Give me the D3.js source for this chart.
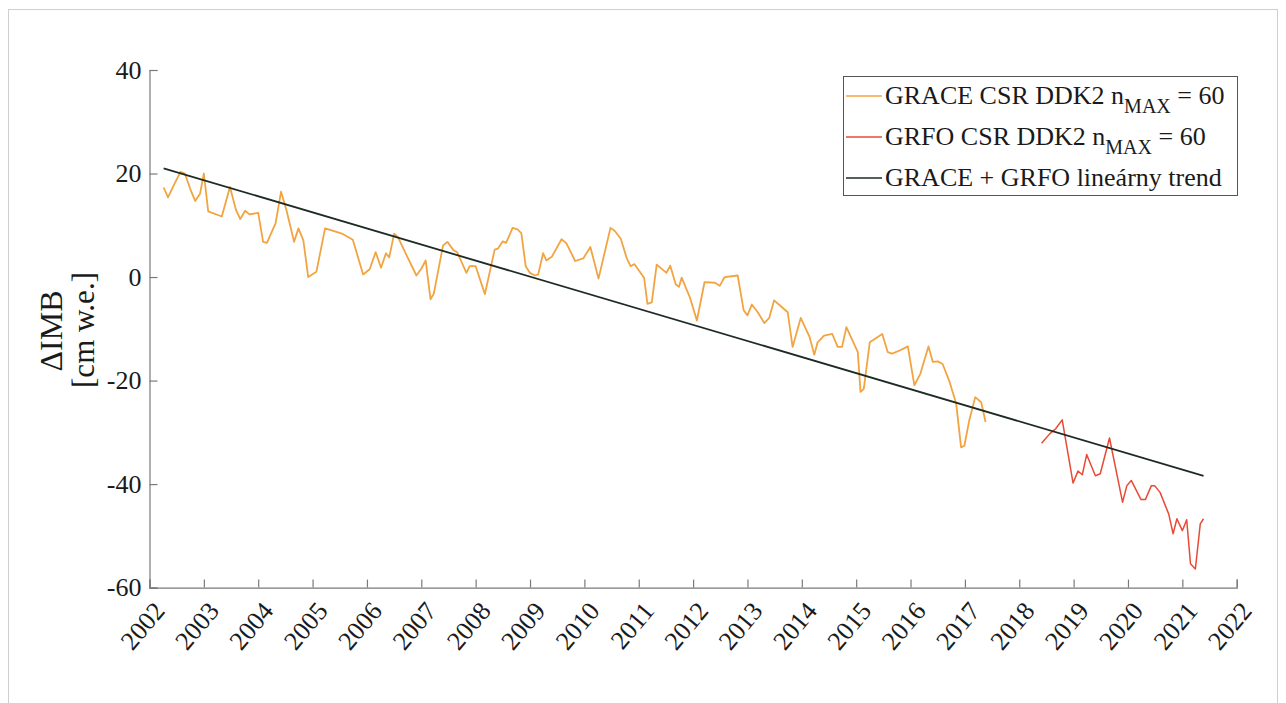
<!DOCTYPE html>
<html>
<head>
<meta charset="utf-8">
<script src="https://cdn.jsdelivr.net/npm/d3@7"></script>
<style>
  html, body { margin: 0; padding: 0; background: #fff; }
  svg { display: block; }
  text { font-family: "Liberation Serif", "Times New Roman", serif; fill: #1a1a1a; }
</style>
</head>
<body>
<svg id="chart" width="1286" height="703"></svg>
<script>
const graceYears = [2002.26,2002.34,2002.45,2002.57,2002.65,2002.75,2002.84,2002.93,2003.00,2003.08,2003.33,2003.48,2003.59,2003.67,2003.76,2003.84,2004.00,2004.09,2004.16,2004.32,2004.42,2004.52,2004.66,2004.74,2004.83,2004.92,2005.07,2005.23,2005.35,2005.54,2005.74,2005.93,2006.05,2006.16,2006.26,2006.35,2006.41,2006.50,2006.57,2006.73,2006.91,2007.00,2007.08,2007.17,2007.23,2007.40,2007.48,2007.59,2007.66,2007.83,2007.89,2008.00,2008.17,2008.35,2008.41,2008.50,2008.56,2008.68,2008.77,2008.84,2008.92,2009.00,2009.09,2009.15,2009.24,2009.30,2009.40,2009.58,2009.67,2009.83,2009.98,2010.11,2010.26,2010.48,2010.56,2010.67,2010.78,2010.85,2010.92,2011.10,2011.16,2011.24,2011.33,2011.51,2011.58,2011.68,2011.74,2011.79,2011.94,2012.07,2012.21,2012.40,2012.49,2012.58,2012.82,2012.93,2013.00,2013.08,2013.19,2013.31,2013.40,2013.49,2013.62,2013.74,2013.83,2013.98,2014.14,2014.23,2014.29,2014.41,2014.56,2014.66,2014.74,2014.82,2015.03,2015.08,2015.14,2015.25,2015.32,2015.48,2015.58,2015.66,2015.80,2015.95,2016.07,2016.18,2016.33,2016.41,2016.50,2016.59,2016.71,2016.84,2016.93,2016.99,2017.08,2017.19,2017.30,2017.38];
const graceValues = [17.3,15.4,17.8,20.3,20.0,17.0,14.7,16.1,20.0,12.7,11.7,17.4,13.0,11.2,12.8,12.1,12.4,6.8,6.6,10.4,16.5,12.9,6.8,9.4,7.1,0.0,1.0,9.4,9.0,8.4,7.2,0.5,1.5,4.8,1.8,4.6,3.8,8.4,7.7,4.2,0.3,1.6,3.2,-4.3,-3.2,6.1,6.8,5.2,4.8,0.8,2.1,2.1,-3.3,5.3,5.5,6.9,6.6,9.5,9.2,8.5,2.1,0.8,0.3,0.5,4.6,3.2,3.9,7.3,6.5,3.1,3.6,5.8,-0.3,9.5,8.9,7.4,3.6,2.1,2.5,-0.2,-5.2,-4.9,2.4,0.8,2.2,-1.4,-1.9,-0.1,-3.9,-8.4,-1.0,-1.1,-1.7,0.0,0.3,-6.4,-7.4,-5.3,-6.8,-8.9,-7.9,-4.5,-5.7,-6.8,-13.5,-7.9,-11.5,-15.0,-12.6,-11.3,-11.0,-13.5,-13.5,-9.7,-14.5,-22.2,-21.6,-12.6,-12.1,-11.0,-14.5,-14.8,-14.2,-13.4,-20.9,-18.7,-13.4,-16.4,-16.3,-16.8,-20.0,-24.5,-32.9,-32.6,-27.7,-23.2,-24.2,-28.0];

const grfoYears = [2018.41,2018.56,2018.67,2018.79,2018.99,2019.08,2019.16,2019.24,2019.40,2019.49,2019.66,2019.90,2019.98,2020.06,2020.24,2020.32,2020.43,2020.49,2020.59,2020.75,2020.83,2020.90,2021.00,2021.08,2021.15,2021.24,2021.33,2021.39];
const grfoValues = [-32.1,-30.3,-29.3,-27.6,-39.8,-37.5,-38.2,-34.3,-38.4,-38.0,-31.1,-43.5,-40.3,-39.3,-43.0,-43.0,-40.3,-40.3,-41.6,-45.8,-49.6,-46.7,-49.0,-46.9,-55.4,-56.4,-47.7,-46.7];

const trendYears = [2002.26, 2021.39];
const trendValues = [21.0, -38.4];

const yTicks = [-60, -40, -20, 0, 20, 40];
const xTicks = [2002,2003,2004,2005,2006,2007,2008,2009,2010,2011,2012,2013,2014,2015,2016,2017,2018,2019,2020,2021,2022];

const legendLabels = [
  {main: "GRACE CSR DDK2 n", sub: "MAX", tail: " = 60", color: "#f2a441"},
  {main: "GRFO CSR DDK2 n", sub: "MAX", tail: " = 60", color: "#e84a35"},
  {main: "GRACE + GRFO lineárny trend", sub: null, tail: null, color: "#1c2b24"}
];

const FONT = "'Liberation Serif', 'Times New Roman', serif";
const svg = d3.select("#chart");

// outer light frame
svg.append("rect").attr("x", 8.5).attr("y", 9.5).attr("width", 1269).attr("height", 700)
  .attr("fill", "none").attr("stroke", "#cfcfcf").attr("stroke-width", 1);

const x = d3.scaleLinear().domain([2002, 2022]).range([149.5, 1236.7]);
const y = d3.scaleLinear().domain([-60, 40]).range([587.6, 70]);

const axisColor = "#7a7a7a";

// Y axis
const yAxis = svg.append("g").attr("transform", `translate(${x(2002)},0)`)
  .call(d3.axisLeft(y).tickValues(yTicks).tickSize(-8).tickPadding(8).tickFormat(d => String(d)));
yAxis.attr("font-family", null);
yAxis.select(".domain").attr("stroke", axisColor).attr("stroke-width", 1.2);
yAxis.selectAll(".tick line").attr("stroke", axisColor).attr("stroke-width", 1.2);
yAxis.selectAll(".tick text").style("font-family", FONT).style("font-size", "26px").attr("fill", "#1a1a1a");

// X axis
const xAxis = svg.append("g").attr("transform", `translate(0,${y(-60)})`)
  .call(d3.axisBottom(x).tickValues(xTicks).tickSize(-8).tickFormat(d => String(d)));
xAxis.attr("font-family", null);
xAxis.select(".domain").attr("stroke", axisColor).attr("stroke-width", 1.2);
xAxis.selectAll(".tick line").attr("stroke", axisColor).attr("stroke-width", 1.2);
xAxis.selectAll(".tick text")
  .style("font-family", FONT).style("font-size", "26px").attr("fill", "#1a1a1a")
  .attr("text-anchor", "end")
  .attr("dy", null).attr("y", null)
  .attr("transform", "translate(16,24) rotate(-50)");

// Y label
svg.append("text").attr("transform", "translate(62,331) rotate(-90)")
  .attr("text-anchor", "middle").style("font-family", FONT).style("font-size", "32px").text("ΔIMB");
svg.append("text").attr("transform", "translate(94,330) rotate(-90)")
  .attr("text-anchor", "middle").style("font-family", FONT).style("font-size", "31px").text("[cm w.e.]");

const line = d3.line().x(d => x(d[0])).y(d => y(d[1]));

svg.append("path").datum(d3.zip(graceYears, graceValues))
  .attr("d", line).attr("fill", "none").attr("stroke", legendLabels[0].color)
  .attr("stroke-width", 1.8).attr("stroke-linejoin", "round");

svg.append("path").datum(d3.zip(grfoYears, grfoValues))
  .attr("d", line).attr("fill", "none").attr("stroke", legendLabels[1].color)
  .attr("stroke-width", 1.5).attr("stroke-linejoin", "round");

svg.append("path").datum(d3.zip(trendYears, trendValues))
  .attr("d", line).attr("fill", "none").attr("stroke", legendLabels[2].color)
  .attr("stroke-width", 1.8);

// Legend
const lg = svg.append("g");
lg.append("rect").attr("x", 843.5).attr("y", 76.5).attr("width", 394).attr("height", 119)
  .attr("fill", "#fff").attr("stroke", "#555").attr("stroke-width", 1);
const rowBase = [104, 145, 186];
legendLabels.forEach((l, i) => {
  lg.append("line").attr("x1", 846).attr("x2", 882).attr("y1", rowBase[i] - 8).attr("y2", rowBase[i] - 8)
    .attr("stroke", l.color).attr("stroke-width", 1.5);
  const t = lg.append("text").attr("x", 885).attr("y", rowBase[i]).style("font-family", FONT).style("font-size", "26px");
  t.append("tspan").text(l.main);
  if (l.sub) {
    t.append("tspan").attr("dy", 9).style("font-size", "20px").text(l.sub);
    t.append("tspan").attr("dy", -9).text(l.tail);
  }
});
</script>
</body>
</html>
